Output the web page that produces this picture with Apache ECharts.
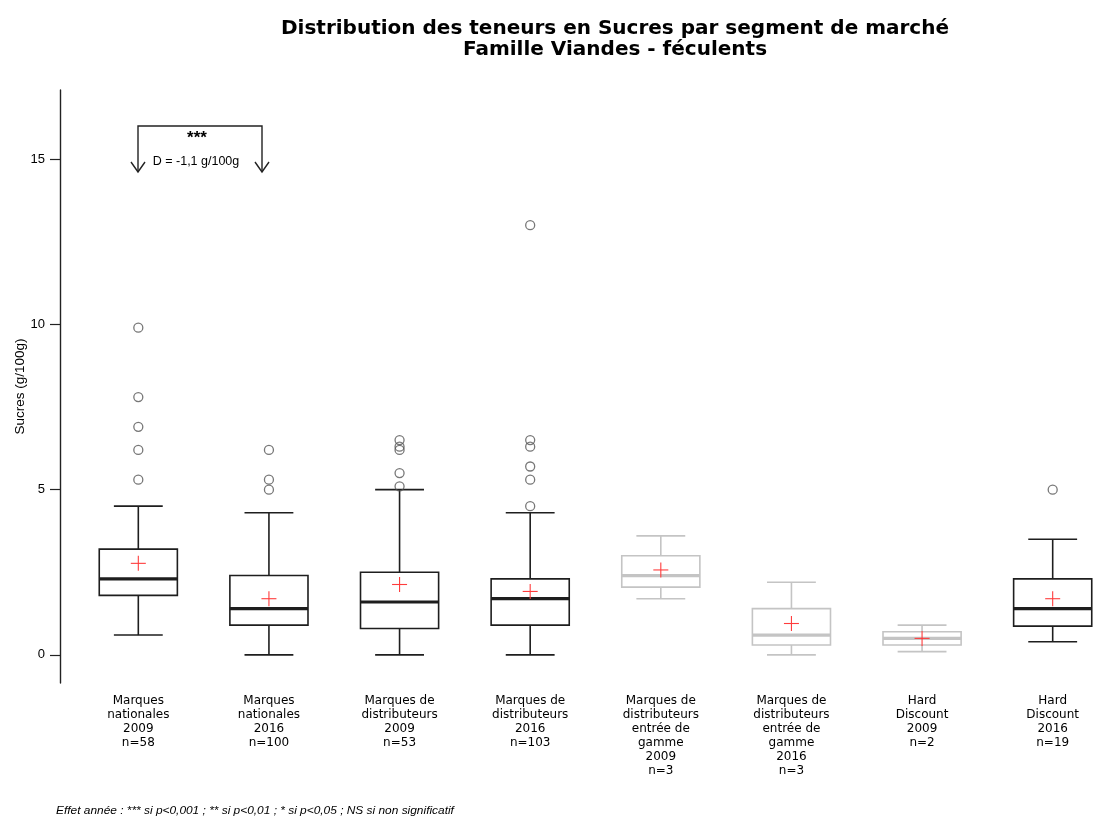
<!DOCTYPE html>
<html><head><meta charset="utf-8">
<script src="https://cdn.jsdelivr.net/npm/echarts@6/dist/echarts.min.js"></script>
<style>html,body{margin:0;padding:0;background:#fff}#c{width:1093px;height:818px}</style>
</head><body><div id="c"></div>
<script>
// ---- data ----
const segments = ['Marques\nnationales', 'Marques\nnationales', 'Marques de\ndistributeurs', 'Marques de\ndistributeurs',
  'Marques de\ndistributeurs\nentrée de\ngamme', 'Marques de\ndistributeurs\nentrée de\ngamme', 'Hard\nDiscount', 'Hard\nDiscount'];
const years = ['2009', '2016', '2009', '2016', '2009', '2016', '2009', '2016'];
const counts = [58, 100, 53, 103, 3, 3, 2, 19];
const whiskerLow = [0.6, 0, 0, 0, 1.7, 0, 0.1, 0.4];
const q1 = [1.8, 0.9, 0.8, 0.9, 2.05, 0.3, 0.3, 0.87];
const median = [2.3, 1.4, 1.6, 1.7, 2.4, 0.6, 0.5, 1.4];
const q3 = [3.2, 2.4, 2.5, 2.3, 3.0, 1.4, 0.7, 2.3];
const whiskerHigh = [4.5, 4.3, 5.0, 4.3, 3.6, 2.2, 0.9, 3.5];
const means = [2.77, 1.7, 2.13, 1.92, 2.57, 0.95, 0.5, 1.7];
const outliers = [
  [0, 9.9], [0, 7.8], [0, 6.9], [0, 6.2], [0, 5.3],
  [1, 6.2], [1, 5.3], [1, 5.0],
  [2, 6.5], [2, 6.3], [2, 6.2], [2, 5.5], [2, 5.1],
  [3, 13.0], [3, 6.5], [3, 6.3], [3, 5.7], [3, 5.3], [3, 4.5],
  [7, 5.0]
];
const yTicks = [0, 5, 10, 15];
const titleLines = ['Distribution des teneurs en Sucres par segment de marché', 'Famille Viandes - féculents'];
const yName = 'Sucres (g/100g)';
const annotStars = '***';
const annotDiff = 'D = -1,1 g/100g';
const footnote = 'Effet année : *** si p<0,001 ; ** si p<0,01 ; * si p<0,05 ; NS si non significatif';

// ---- build ----
const categories = segments.map((s, i) => s + '\n' + years[i] + '\nn=' + counts[i]);
const boxRows = categories.map((c, i) => [i, whiskerLow[i], q1[i], median[i], q3[i], whiskerHigh[i]]);
const meanRows = means.map((m, i) => [i, m]);
const DARK = '#1e1e1e', LIGHT = '#c4c4c4';

function renderBox(params, api) {
  const i = api.value(0);
  const band = api.size([1, 0])[0];
  const cx = api.coord([i, 0])[0];
  const hw = band * 0.299, cw = band * 0.187;
  const y = k => api.coord([i, api.value(k)])[1];
  const col = counts[i] < 10 ? LIGHT : DARK;
  const ln = (x1, y1, x2, y2, w) => ({ type: 'line', shape: { x1, y1, x2, y2 }, style: { stroke: col, lineWidth: w } });
  const yLo = y(1), yQ1 = y(2), yMed = y(3), yQ3 = y(4), yHi = y(5);
  return {
    type: 'group', children: [
      ln(cx, yQ3, cx, yHi, 1.6), ln(cx, yQ1, cx, yLo, 1.6),
      ln(cx - cw, yHi, cx + cw, yHi, 1.6), ln(cx - cw, yLo, cx + cw, yLo, 1.6),
      { type: 'rect', shape: { x: cx - hw, y: yQ3, width: 2 * hw, height: yQ1 - yQ3 }, style: { fill: 'rgba(255,255,255,0)', stroke: col, lineWidth: 1.6 } },
      ln(cx - hw, yMed, cx + hw, yMed, 3.2)
    ]
  };
}
function renderMean(params, api) {
  const p = api.coord([api.value(0), api.value(1)]);
  const a = 7.5;
  const st = { stroke: '#ff3c3c', lineWidth: 1.1 };
  return { type: 'group', children: [
    { type: 'line', shape: { x1: p[0] - a, y1: p[1], x2: p[0] + a, y2: p[1] }, style: st },
    { type: 'line', shape: { x1: p[0], y1: p[1] - a, x2: p[0], y2: p[1] + a }, style: st }
  ] };
}

const chart = echarts.init(document.getElementById('c'));
chart.setOption({
  backgroundColor: '#fff',
  animation: false,
  grid: { left: 73, right: -25, top: 90, bottom: 135, containLabel: false, outerBoundsMode: 'none' },
  xAxis: {
    type: 'category', data: categories,
    axisLine: { show: false }, axisTick: { show: false }, splitLine: { show: false },
    axisLabel: { interval: 0, fontFamily: 'DejaVu Sans', fontSize: 12, lineHeight: 14, color: '#000', margin: 11 }
  },
  yAxis: {
    type: 'value', min: -0.85, max: 17.09, offset: 13,
    name: yName, nameLocation: 'middle', nameGap: 33, nameRotate: 90, nameMoveOverlap: false,
    nameTextStyle: { fontFamily: 'Liberation Sans', fontSize: 13.5, color: '#000' },
    axisLine: { show: true, lineStyle: { color: '#222', width: 1.4 } },
    axisTick: { show: true, customValues: yTicks, length: 10, lineStyle: { color: '#222', width: 1.2 } },
    axisLabel: { customValues: yTicks, fontFamily: 'Liberation Sans', fontSize: 13, color: '#000', margin: 15 },
    splitLine: { show: false }
  },
  series: [
    { type: 'custom', renderItem: renderBox, data: boxRows, encode: { x: 0, y: [1, 2, 3, 4, 5] }, z: 2 },
    { type: 'scatter', data: outliers, symbol: 'circle', symbolSize: 9,
      itemStyle: { color: 'rgba(255,255,255,0)', borderColor: '#555', borderWidth: 1.3 }, z: 3 },
    { type: 'custom', renderItem: renderMean, data: meanRows, encode: { x: 0, y: 1 }, z: 4 }
  ],
  graphic: [
    { type: 'text', x: 615, y: 29, style: { text: titleLines[0], fontFamily: 'DejaVu Sans', fontWeight: 'bold', fontSize: 20, fill: '#000', align: 'center', verticalAlign: 'middle' } },
    { type: 'text', x: 615, y: 50, style: { text: titleLines[1], fontFamily: 'DejaVu Sans', fontWeight: 'bold', fontSize: 20, fill: '#000', align: 'center', verticalAlign: 'middle' } },
    { type: 'polyline', shape: { points: [[138, 172], [138, 126], [262, 126], [262, 172]] }, style: { stroke: '#222', lineWidth: 1.4, fill: null } },
    { type: 'polyline', shape: { points: [[131, 162], [138, 172], [145, 162]] }, style: { stroke: '#222', lineWidth: 1.4, fill: null } },
    { type: 'polyline', shape: { points: [[255, 162], [262, 172], [269, 162]] }, style: { stroke: '#222', lineWidth: 1.4, fill: null } },
    { type: 'text', x: 197, y: 138, style: { text: annotStars, fontFamily: 'Liberation Sans', fontWeight: 'bold', fontSize: 17, fill: '#000', align: 'center', verticalAlign: 'middle' } },
    { type: 'text', x: 196, y: 162, style: { text: annotDiff, fontFamily: 'Liberation Sans', fontSize: 12.5, fill: '#000', align: 'center', verticalAlign: 'middle' } },
    { type: 'text', x: 56, y: 811, scaleX: 1.19, style: { text: footnote, fontFamily: 'Liberation Sans', fontStyle: 'italic', fontSize: 10, fill: '#000', align: 'left', verticalAlign: 'middle' } }
  ]
});
</script></body></html>
